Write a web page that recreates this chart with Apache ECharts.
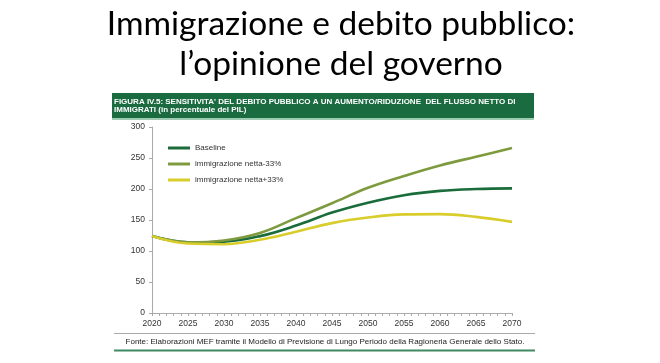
<!DOCTYPE html>
<html>
<head>
<meta charset="utf-8">
<script src="https://cdn.jsdelivr.net/npm/echarts@6/dist/echarts.min.js"></script>
<style>html,body{margin:0;padding:0;background:#fff;}#c{width:660px;height:363px;}</style>
</head>
<body>
<div id="c"></div>
<script>
const years = [2020, 2025, 2030, 2035, 2040, 2045, 2050, 2055, 2060, 2065, 2070];
const baseline = [124, 114, 115, 124, 141, 162, 178, 190, 197, 200, 201];
const immMinus33 = [124, 114, 117, 129, 153, 177, 202, 221, 238, 252, 266];
const immPlus33 = [124, 112, 111, 118, 131, 145, 154, 159, 159.5, 155, 147];
const seriesNames = ['Baseline', 'immigrazione netta-33%', 'immigrazione netta+33%'];
const yTicks = [0, 50, 100, 150, 200, 250, 300];

const pair = (vals) => years.map((y, i) => [y, vals[i]]);
const chart = echarts.init(document.getElementById('c'), null, {renderer: 'canvas'});
const colors = ['#1a6c3b', '#7e9a3e', '#d9cd2c'];
const lblFont = '"Liberation Sans", Arial, sans-serif';

chart.setOption({
  animation: false,
  title: {
    text: 'Immigrazione e debito pubblico:\nl’opinione del governo',
    left: 336, top: -1, textAlign: 'center',
    textStyle: {fontFamily: 'Lato, "Open Sans", sans-serif', fontWeight: 'normal', fontSize: 33.5, lineHeight: 40, color: '#000'}
  },
  legend: {
    orient: 'vertical', left: 163, top: 138, itemWidth: 22, itemHeight: 3, itemGap: 6,
    icon: 'rect',
    textStyle: {fontFamily: lblFont, fontSize: 8, lineHeight: 10, color: '#333'},
    data: seriesNames
  },
  grid: {left: 152, right: 148, top: 127, bottom: 50},
  xAxis: {
    type: 'value', min: 2020, max: 2070, interval: 5,
    axisLine: {lineStyle: {color: '#aaa'}},
    axisTick: {show: true, length: 3, lineStyle: {color: '#aaa'}},
    minorTick: {show: true, splitNumber: 5, length: 3, lineStyle: {color: '#aaa'}},
    splitLine: {show: false},
    axisLabel: {fontFamily: lblFont, fontSize: 8.5, color: '#333', margin: 6, formatter: v => String(v)}
  },
  yAxis: {
    type: 'value', min: 0, max: 300, interval: 50,
    axisLine: {show: true, lineStyle: {color: '#aaa'}},
    axisTick: {show: true, length: 3, lineStyle: {color: '#aaa'}},
    splitLine: {show: false},
    axisLabel: {fontFamily: lblFont, fontSize: 8.5, color: '#333', margin: 7,
      formatter: v => yTicks.includes(v) ? String(v) : ''}
  },
  series: [
    {name: seriesNames[0], type: 'line', data: pair(baseline), smooth: 0.4, showSymbol: false, lineStyle: {width: 2.6, color: colors[0]}, itemStyle: {color: colors[0]}},
    {name: seriesNames[1], type: 'line', data: pair(immMinus33), smooth: 0.4, showSymbol: false, lineStyle: {width: 2.6, color: colors[1]}, itemStyle: {color: colors[1]}},
    {name: seriesNames[2], type: 'line', data: pair(immPlus33), smooth: 0.4, showSymbol: false, lineStyle: {width: 2.6, color: colors[2]}, itemStyle: {color: colors[2]}}
  ],
  graphic: [
    {type: 'rect', shape: {x: 112, y: 93, width: 422, height: 25}, style: {fill: '#1b6b40'}},
    {type: 'rect', shape: {x: 112, y: 118, width: 422, height: 2}, style: {fill: '#9fcbb3'}},
    {type: 'text', x: 114, y: 98, style: {text: "FIGURA IV.5: SENSITIVITA' DEL DEBITO PUBBLICO A UN AUMENTO/RIDUZIONE  DEL FLUSSO NETTO DI\nIMMIGRATI (in percentuale del PIL)", fill: '#fff', font: 'bold 8px "Liberation Sans", Arial, sans-serif', lineHeight: 8}},
    {type: 'rect', shape: {x: 114, y: 333, width: 421, height: 1}, style: {fill: '#aaa'}},
    {type: 'text', x: 325, y: 342, style: {text: 'Fonte: Elaborazioni MEF tramite il Modello di Previsione di Lungo Periodo della Ragioneria Generale dello Stato.', fill: '#222', font: '8px "Liberation Sans", Arial, sans-serif', textAlign: 'center', textVerticalAlign: 'middle'}},
    {type: 'rect', shape: {x: 114, y: 349.5, width: 421, height: 2}, style: {fill: '#3f8a63'}}
  ]
});
</script>
</body>
</html>
